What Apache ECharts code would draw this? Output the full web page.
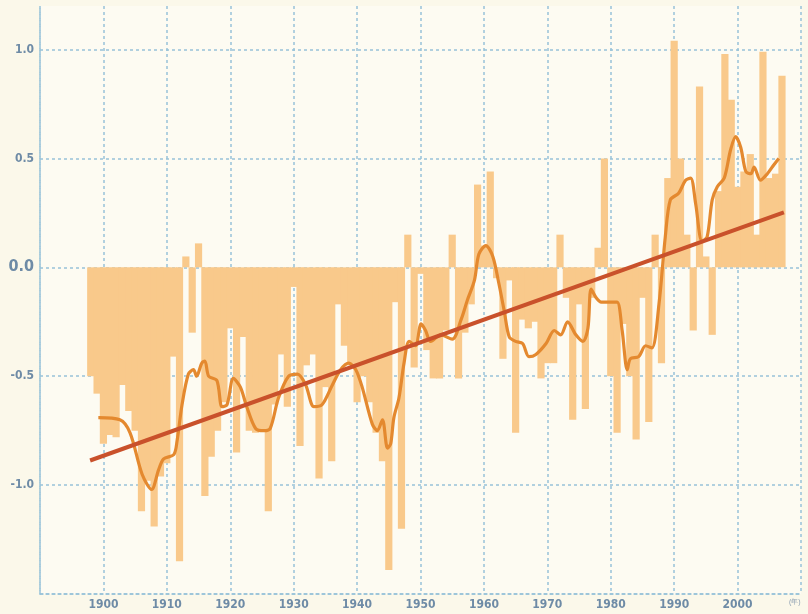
<!DOCTYPE html>
<html><head><meta charset="utf-8">
<script src="https://cdn.jsdelivr.net/npm/echarts@6/dist/echarts.min.js"></script>
<style>html,body{margin:0;padding:0;background:#fbf8ea;}#c{width:808px;height:614px;}</style>
</head><body><div id="c"></div>
<script>
// Annual anomalies (bars), 1898-2007
const years = [];
for (let y = 1898; y <= 2007; y++) years.push(y);
const anomalies = [
 -0.50,-0.58,-0.81,-0.77,-0.78,-0.54,-0.66,-0.75,-1.12,-0.98,
 -1.19,-0.96,-0.90,-0.41,-1.35, 0.05,-0.30, 0.11,-1.05,-0.87,
 -0.75,-0.62,-0.28,-0.85,-0.32,-0.75,-0.76,-0.75,-1.12,-0.63,
 -0.40,-0.64,-0.09,-0.82,-0.45,-0.40,-0.97,-0.55,-0.89,-0.17,
 -0.36,-0.45,-0.62,-0.50,-0.62,-0.76,-0.89,-1.39,-0.16,-1.20,
  0.15,-0.46,-0.03,-0.38,-0.51,-0.51,-0.29, 0.15,-0.51,-0.30,
 -0.17, 0.38, 0.10, 0.44,-0.05,-0.42,-0.06,-0.76,-0.24,-0.28,
 -0.25,-0.51,-0.44,-0.44, 0.15,-0.14,-0.70,-0.17,-0.65,-0.14,
  0.09, 0.50,-0.50,-0.76,-0.26,-0.50,-0.79,-0.14,-0.71, 0.15,
 -0.44, 0.41, 1.04, 0.50, 0.15,-0.29, 0.83, 0.05,-0.31, 0.35,
  0.98, 0.77, 0.37, 0.44, 0.52, 0.15, 0.99, 0.41, 0.43, 0.88
];
// Running mean curve
const smoothX = [1899.2,1902.6,1904.2,1906.1,1907.6,1908.7,1909.5,1911.1,1911.6,1912.4,1913.4,1914.2,1914.7,1915.5,1916,1916.6,1917.9,1918.7,1919.5,1920.5,1921.6,1922.6,1924,1925.3,1926.3,1927.6,1929.2,1930.6,1931.9,1933.2,1934.5,1936.1,1937.4,1938.7,1939.8,1940.8,1942.4,1943.2,1944,1944.8,1945.3,1945.8,1946.6,1947.4,1948.2,1949.2,1950.1,1950.8,1951.6,1953.2,1955,1956.4,1957.4,1958.5,1959.2,1960.3,1961.4,1962.4,1963.2,1964,1965,1966.1,1967.1,1968.2,1969.8,1971.1,1972.1,1973.2,1974.5,1975.6,1976.4,1976.9,1977.7,1978.5,1980,1981,1981.8,1982.6,1983.1,1984.4,1985.5,1986.5,1987.6,1988.6,1989.4,1990.7,1991.8,1992.6,1993.4,1994.4,1995.2,1996,1996.8,1997.9,1998.9,1999.7,2000.5,2001.3,2002.1,2002.6,2003.6,2004.7,2005.7,2006.5];
const smoothY = [-0.69,-0.70,-0.76,-0.95,-1.02,-0.93,-0.88,-0.86,-0.80,-0.63,-0.49,-0.47,-0.50,-0.44,-0.43,-0.50,-0.52,-0.64,-0.63,-0.51,-0.55,-0.64,-0.74,-0.75,-0.74,-0.60,-0.50,-0.49,-0.54,-0.64,-0.63,-0.54,-0.47,-0.44,-0.47,-0.55,-0.72,-0.75,-0.70,-0.83,-0.81,-0.69,-0.60,-0.44,-0.34,-0.36,-0.26,-0.29,-0.34,-0.31,-0.33,-0.24,-0.15,-0.06,0.06,0.10,0.05,-0.08,-0.20,-0.32,-0.34,-0.35,-0.41,-0.40,-0.35,-0.29,-0.31,-0.25,-0.31,-0.34,-0.28,-0.10,-0.14,-0.16,-0.16,-0.16,-0.29,-0.47,-0.42,-0.41,-0.36,-0.37,-0.17,0.14,0.31,0.34,0.40,0.41,0.29,0.12,0.14,0.31,0.37,0.41,0.54,0.60,0.55,0.44,0.43,0.46,0.40,0.43,0.47,0.50];
// Linear trend end points
const trendX = [1897.9, 2007.3];
const trendY = [-0.887, 0.252];
const yTickLabels = ['-1.0','-0.5','0.0','0.5','1.0'];
const xTickLabels = ['1900','1910','1920','1930','1940','1950','1960','1970','1980','1990','2000'];

const gridCol = '#98c2d9';
const dot = {color: gridCol, width: 1.5, type: [3, 3]};
const font = '"Liberation Sans Narrow", "DejaVu Sans Condensed", sans-serif';
const chart = echarts.init(document.getElementById('c'));
chart.setOption({
  backgroundColor: '#fbf8ea',
  animation: false,
  grid: {left: 40, right: 7, top: 6, bottom: 20, show: true, backgroundColor: '#fdfbf2', borderWidth: 0},
  xAxis: {
    type: 'value', min: 1890, max: 2010, interval: 10,
    axisLine: {show: true, onZero: false, lineStyle: dot},
    axisTick: {show: false},
    splitLine: {show: true, lineStyle: dot},
    axisLabel: {
      margin: 5, color: '#6e8ba6', fontSize: 12, fontWeight: 'bold', fontFamily: font,
      formatter: v => xTickLabels.indexOf(String(v)) >= 0 ? String(v) : ''
    }
  },
  yAxis: {
    type: 'value', min: -1.5, max: 1.2, interval: 0.5,
    axisLine: {show: true, lineStyle: dot},
    axisTick: {show: false},
    splitLine: {show: true, lineStyle: {color: [gridCol,gridCol,gridCol,gridCol,gridCol,gridCol,'rgba(0,0,0,0)'], width: 1.5, type: [3,3]}},
    axisLabel: {
      margin: 6, color: '#6e8ba6', fontWeight: 'bold', fontFamily: font,
      formatter: v => {
        const s = (Math.round(v*10)/10).toFixed(1);
        if (yTickLabels.indexOf(s) < 0) return '';
        return s === '0.0' ? '{z|0.0}' : '{n|' + s + '}';
      },
      rich: {z: {fontSize: 16, fontWeight: 'bold', color: '#6e8ba6', fontFamily: font},
             n: {fontSize: 12, fontWeight: 'bold', color: '#6e8ba6', fontFamily: font}}
    }
  },
  graphic: [{type: 'text', left: 789, top: 599, style: {text: '(年)', fontSize: 7, fill: '#8a9db0'}}],
  series: [
    {type: 'bar', data: years.map((y, i) => [y, anomalies[i]]), barWidth: 7.2, itemStyle: {color: '#f9c98b'}, z: 2},
    {type: 'line', data: smoothX.map((x, i) => [x, smoothY[i]]), smooth: 0.3, showSymbol: false, lineStyle: {color: '#e4892f', width: 3.2}, z: 3},
    {type: 'line', data: trendX.map((x, i) => [x, trendY[i]]), showSymbol: false, lineStyle: {color: '#c9512b', width: 4}, z: 4}
  ]
});
</script></body></html>
